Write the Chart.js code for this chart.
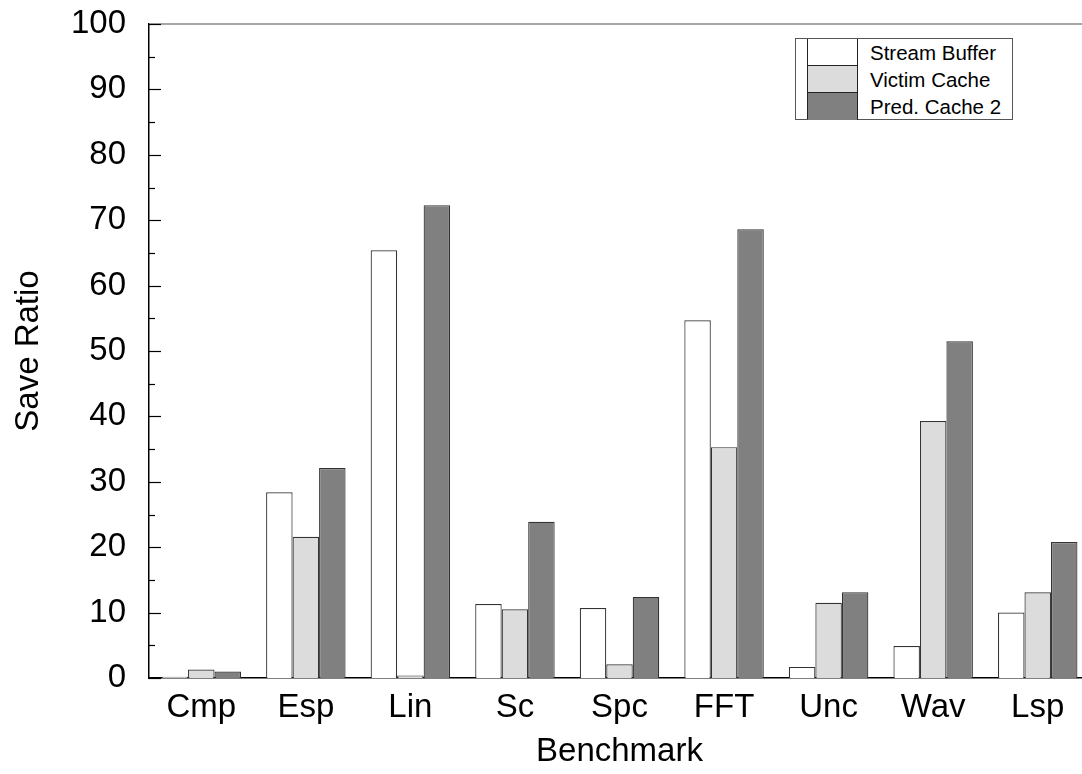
<!DOCTYPE html>
<html>
<head>
<meta charset="utf-8">
<title>Save Ratio by Benchmark</title>
<script src="https://cdn.jsdelivr.net/npm/chart.js@4/dist/chart.umd.min.js"></script>
<style>
  html, body { margin: 0; padding: 0; background: #fff; overflow: hidden; }
  #wrap { position: absolute; left: 0; top: 0; width: 1082px; height: 774px; overflow: hidden; }
  #chart { position: absolute; left: 0; top: 0; }
  #legend {
    position: absolute; left: 795px; top: 38px; width: 216px; height: 80px;
    border: 1px solid #555; background: #fff;
    font-family: "Liberation Sans", Arial, sans-serif; font-size: 20.5px; color: #000;
  }
  #legend .gap { position: absolute; left: 0; top: 0; width: 11px; height: 80px; border-right: 1px solid #222; }
  #legend .row { position: absolute; left: 12px; height: 27px; width: 204px; }
  #legend .sw { position: absolute; left: 0; top: 0; width: 49px; height: 26px; border-right: 1px solid #222; border-bottom: 1px solid #222; }
  #legend .row:last-child .sw { border-bottom: none; height: 27px; }
  #legend .txt { position: absolute; left: 62px; top: 0; line-height: 27px; white-space: nowrap; }
</style>
</head>
<body>
<div id="wrap">
  <canvas id="chart" width="1090" height="774"></canvas>
  <div id="legend"></div>
</div>
<script>
'use strict';

const CATEGORIES = ['Cmp', 'Esp', 'Lin', 'Sc', 'Spc', 'FFT', 'Unc', 'Wav', 'Lsp'];
const SERIES_NAMES = ['Stream Buffer', 'Victim Cache', 'Pred. Cache 2'];
const STREAM_BUFFER = [0.2, 28.4, 65.4, 11.3, 10.7, 54.7, 1.7, 4.9, 10.0];
const VICTIM_CACHE = [1.3, 21.6, 0.4, 10.5, 2.1, 35.3, 11.5, 39.3, 13.1];
const PRED_CACHE_2 = [1.0, 32.1, 72.3, 23.9, 12.4, 68.6, 13.1, 51.5, 20.8];
const Y_MIN = 0;
const Y_MAX = 100;
const Y_STEP = 10;

const FILLS = ['#ffffff', '#dcdcdc', '#808080'];
const FONT = '"Liberation Sans", Arial, sans-serif';

const el = id => document.getElementById(id);

// inward major/minor ticks on the left axis plus the grey top frame line
const frameTicks = {
  id: 'frameTicks',
  afterDraw(chart) {
    const { ctx, chartArea } = chart;
    const y = chart.scales.y;
    ctx.save();
    ctx.strokeStyle = '#888';
    ctx.lineWidth = 1.5;
    ctx.beginPath();
    ctx.moveTo(chartArea.left, chartArea.top);
    ctx.lineTo(chartArea.right, chartArea.top);
    ctx.stroke();

    ctx.strokeStyle = '#000';
    ctx.lineWidth = 1.2;
    for (let v = Y_MIN; v <= Y_MAX; v += Y_STEP / 2) {
      const py = Math.round(y.getPixelForValue(v)) + 0.5;
      const len = v % Y_STEP === 0 ? 12 : 6;
      ctx.beginPath();
      ctx.moveTo(chartArea.left, py);
      ctx.lineTo(chartArea.left + len, py);
      ctx.stroke();
    }
    ctx.restore();
  }
};

function buildLegend() {
  const box = el('legend');
  let html = '<div class="gap"></div>';
  SERIES_NAMES.forEach((name, i) => {
    html += `<div class="row" style="top:${i * 27}px"><div class="sw" style="background:${FILLS[i]}"></div><div class="txt">${name}</div></div>`;
  });
  box.innerHTML = html;
}

function initChart() {
  const values = [STREAM_BUFFER, VICTIM_CACHE, PRED_CACHE_2];
  new Chart(el('chart'), {
    type: 'bar',
    data: {
      labels: CATEGORIES,
      datasets: SERIES_NAMES.map((name, i) => ({
        label: name,
        data: values[i],
        backgroundColor: FILLS[i],
        borderColor: '#333',
        borderWidth: 1.2,
        categoryPercentage: 0.76,
        barPercentage: 1
      }))
    },
    options: {
      responsive: false,
      devicePixelRatio: 1,
      animation: false,
      layout: { padding: { top: 24, left: 0, right: 0, bottom: 0 } },
      plugins: { legend: { display: false }, tooltip: { enabled: false } },
      scales: {
        x: {
          grid: { display: false, drawTicks: false },
          border: { display: true, color: '#000', width: 1.5 },
          ticks: { color: '#000', font: { family: FONT, size: 33 }, padding: 10, maxRotation: 0 },
          title: { display: true, text: 'Benchmark', color: '#000', font: { family: FONT, size: 33 }, padding: { top: 0, bottom: 2 } },
          afterFit(scale) { scale.height = 96; }
        },
        y: {
          min: Y_MIN,
          max: Y_MAX,
          grid: { display: false, drawTicks: false },
          border: { display: true, color: '#000', width: 1.5 },
          ticks: { stepSize: Y_STEP, color: '#000', font: { family: FONT, size: 33 }, padding: 23 },
          title: { display: true, text: 'Save Ratio', color: '#000', font: { family: FONT, size: 33 }, padding: { top: 9, bottom: 0 } },
          afterFit(scale) {
            scale.width = 149;
            scale.paddingTop = 0;
            scale.paddingBottom = 0;
          }
        }
      }
    },
    plugins: [frameTicks]
  });
}

document.addEventListener('DOMContentLoaded', () => {
  buildLegend();
  initChart();
});
</script>
</body>
</html>
